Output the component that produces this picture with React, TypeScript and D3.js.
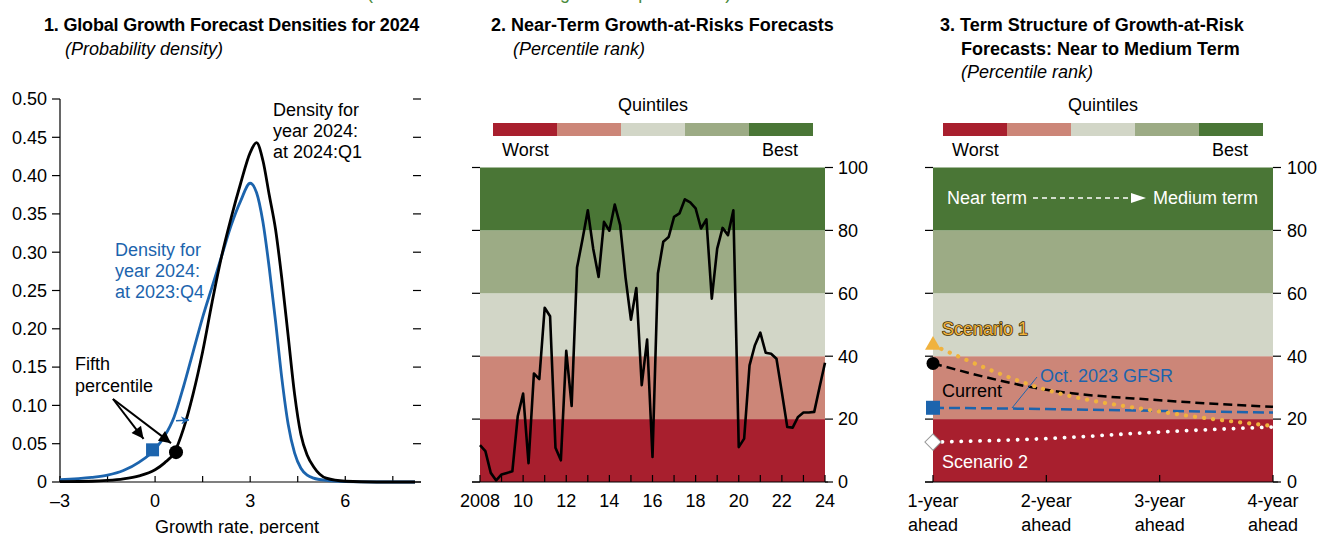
import React from "react";
import * as d3 from "d3";

const FONT = "'Liberation Sans', Arial, Helvetica, sans-serif";
const FS = 18;
const BLUE = "#1c64ad";
const ORANGE = "#f0b23e";
const QUINT_COLORS = ["#a81f2e", "#cc8678", "#d2d6c7", "#9cab85", "#4a7636"];
const BAND_EDGES = [0, 20, 40, 60, 80, 100];

// ---------- Panel 1 data ----------
const densityX = [-3, -2, -1.5, -1, -0.5, 0, 0.3, 0.6, 0.9, 1.2, 1.5, 1.8, 2.1, 2.4, 2.7, 3.0, 3.2, 3.4, 3.6, 3.8, 4.0, 4.2, 4.4, 4.6, 4.8, 5.0, 5.4, 6.0, 7.0, 8.2];
const densityQ4 = [0.003, 0.006, 0.009, 0.015, 0.026, 0.043, 0.06, 0.085, 0.125, 0.17, 0.215, 0.255, 0.295, 0.335, 0.367, 0.39, 0.378, 0.34, 0.28, 0.21, 0.135, 0.075, 0.038, 0.018, 0.009, 0.005, 0.002, 0.0005, 0, 0];
const densityQ1 = [0.0005, 0.001, 0.002, 0.004, 0.008, 0.016, 0.025, 0.038, 0.07, 0.115, 0.17, 0.235, 0.295, 0.345, 0.39, 0.43, 0.443, 0.42, 0.375, 0.33, 0.265, 0.19, 0.115, 0.062, 0.035, 0.02, 0.005, 0.001, 0, 0];
const p1YTicks = [0, 0.05, 0.1, 0.15, 0.2, 0.25, 0.3, 0.35, 0.4, 0.45, 0.5];
const p1XTicks = [-3, -1.5, 0, 1.5, 3, 4.5, 6, 7.5];
const p1XLabels = [-3, 0, 3, 6];
const fifthQ4 = { x: -0.08, y: 0.042 };
const fifthQ1 = { x: 0.66, y: 0.039 };

// ---------- Panel 2 data (quarterly, 2008:Q1 – 2024:Q1) ----------
const garStartYear = 2008;
const garValues = [
  11.7, 9.8, 2.9, 0.5, 2.4, 2.9, 3.4, 20.9, 28.1, 6.0, 34.5, 32.7, 55.4, 52.7, 10.9, 6.9,
  41.7, 24.2, 68.2, 77.0, 86.4, 74.2, 65.2, 82.7, 79.9, 88.2, 81.7, 65.0, 51.6, 61.7, 30.8, 45.3,
  8.0, 66.3, 76.4, 77.9, 84.3, 85.4, 89.9, 88.9, 87.0, 80.6, 83.5, 58.3, 74.2, 80.8, 78.5, 86.4,
  11.1, 13.8, 37.1, 43.5, 47.5, 41.1, 40.8, 39.2, 28.5, 17.5, 17.3, 20.7, 22.1, 22.1, 22.3, 30.2,
  37.9,
];
const p2Years = d3.range(2008, 2025);
const p2LabelYears = d3.range(2008, 2025, 2);
const pctTicks = [0, 20, 40, 60, 80, 100];

// ---------- Panel 3 data ----------
const horizons = [1, 2, 3, 4];
const horizonLabels = ["1-year", "2-year", "3-year", "4-year"];
const currentGaR = [37.7, 29.3, 26.0, 23.9];
const gfsrOct2023 = [23.6, 23.2, 22.6, 22.1];
const scenario1 = [43.5, 29.3, 22.4, 17.8];
const scenario2 = [12.7, 13.8, 15.9, 17.5];

function QuintileLegend({ x0, width }: { x0: number; width: number }) {
  const w = width / 5;
  return (
    <g>
      <text x={x0 + width / 2} y={111} textAnchor="middle">Quintiles</text>
      {QUINT_COLORS.map((c, i) => (
        <rect key={i} x={x0 + i * w} y={123} width={w} height={13} fill={c} />
      ))}
      <text x={x0 + 9} y={156}>Worst</text>
      <text x={x0 + width - 15} y={156} textAnchor="end">Best</text>
    </g>
  );
}

export default function App() {
  // Panel 1 scales
  const p1x = d3.scaleLinear().domain([-3, 8.2]).range([60, 415]);
  const p1y = d3.scaleLinear().domain([0, 0.5]).range([482, 99]);
  const densLine = (vals: number[]) =>
    d3
      .line<number>()
      .x((_, i) => p1x(densityX[i]))
      .y((d) => p1y(d))
      .curve(d3.curveMonotoneX)(vals) as string;

  // Panel 2 scales
  const p2x = d3.scaleLinear().domain([2008, 2024]).range([480, 825]);
  const p2y = d3.scaleLinear().domain([0, 100]).range([482, 167.5]);
  const garLine = d3
    .line<number>()
    .x((_, i) => p2x(garStartYear + i / 4))
    .y((d) => p2y(d))(garValues) as string;

  // Panel 3 scales
  const p3x = d3.scalePoint<number>().domain(horizons).range([933, 1273]);
  const p3y = d3.scaleLinear().domain([0, 100]).range([482, 167.5]);
  const termLine = (vals: number[]) =>
    d3
      .line<number>()
      .x((_, i) => p3x(horizons[i]) as number)
      .y((d) => p3y(d))
      .curve(d3.curveMonotoneX)(vals) as string;

  const sqX = p1x(fifthQ4.x);
  const sqY = p1y(fifthQ4.y);
  const ciX = p1x(fifthQ1.x);
  const ciY = p1y(fifthQ1.y);
  const annStart = { x: 113, y: 399 };

  const tri = d3.symbol(d3.symbolTriangle, 110)() as string;
  const diamond = d3.symbol(d3.symbolSquare, 132)() as string;

  const h1 = p3x(1) as number;

  return (
    <svg
      width={1319}
      height={534}
      style={{ position: "absolute", left: 0, top: 0 }}
      fontFamily={FONT}
      fontSize={FS}
    >
      <defs>
        <marker id="arrBlack" viewBox="0 0 10 10" refX="10" refY="5" markerWidth="13" markerHeight="12" markerUnits="userSpaceOnUse" orient="auto">
          <path d="M0,0 L10,5 L0,10 z" fill="#000" />
        </marker>
        <marker id="arrBlue" viewBox="0 0 10 10" refX="10" refY="5" markerWidth="8" markerHeight="8" markerUnits="userSpaceOnUse" orient="auto">
          <path d="M0,0 L10,5 L0,10 L3,5 z" fill={BLUE} />
        </marker>
      </defs>

      {/* partially visible note at the very top */}
      <text x={367} y={-1} fill="#4a8a3a">(Based on the historical growth in percentiles)</text>

      {/* ================= Panel 1 ================= */}
      <text x={44} y={31} fontWeight="bold" letterSpacing={-0.18}>1. Global Growth Forecast Densities for 2024</text>
      <text x={65} y={55} fontStyle="italic">(Probability density)</text>

      <line x1={60} x2={60} y1={p1y(0.5)} y2={p1y(0)} stroke="#000" strokeWidth={1.2} />
      {p1YTicks.map((t) => (
        <g key={t}>
          <line x1={52} x2={60} y1={p1y(t)} y2={p1y(t)} stroke="#000" strokeWidth={1.2} />
          <line x1={413} x2={421} y1={p1y(t)} y2={p1y(t)} stroke="#000" strokeWidth={1.2} />
          <text x={47} y={p1y(t)} dy="0.35em" textAnchor="end">
            {t === 0 ? "0" : t.toFixed(2)}
          </text>
        </g>
      ))}
      <line x1={60} x2={421} y1={p1y(0)} y2={p1y(0)} stroke="#000" strokeWidth={1.2} />
      {p1XTicks.map((t) => (
        <line key={t} x1={p1x(t)} x2={p1x(t)} y1={p1y(0) - 6} y2={p1y(0)} stroke="#000" strokeWidth={1.2} />
      ))}
      {p1XLabels.map((t) => (
        <text key={t} x={p1x(t)} y={507} textAnchor="middle">
          {t < 0 ? "–" + Math.abs(t) : String(t)}
        </text>
      ))}
      <text x={237} y={533} textAnchor="middle">Growth rate, percent</text>

      <path d={densLine(densityQ4)} fill="none" stroke={BLUE} strokeWidth={2.8} />
      <path d={densLine(densityQ1)} fill="none" stroke="#000" strokeWidth={2.8} />

      <rect x={sqX - 6.5} y={sqY - 6.5} width={13} height={13} fill={BLUE} />
      <circle cx={ciX} cy={ciY} r={7} fill="#000" />

      <line x1={annStart.x} y1={annStart.y} x2={sqX - 9} y2={sqY - 11} stroke="#000" strokeWidth={2} markerEnd="url(#arrBlack)" />
      <line x1={annStart.x} y1={annStart.y} x2={ciX - 5} y2={ciY - 9} stroke="#000" strokeWidth={2} markerEnd="url(#arrBlack)" />
      <line x1={p1x(0.66)} x2={p1x(1.07)} y1={p1y(0.08)} y2={p1y(0.081)} stroke={BLUE} strokeWidth={1.6} markerEnd="url(#arrBlue)" />

      <text x={75} y={370}>Fifth</text>
      <text x={75} y={392}>percentile</text>
      <g fill={BLUE}>
        <text x={115} y={256}>Density for</text>
        <text x={115} y={277}>year 2024:</text>
        <text x={115} y={298}>at 2023:Q4</text>
      </g>
      <text x={273} y={116}>Density for</text>
      <text x={273} y={137}>year 2024:</text>
      <text x={273} y={158}>at 2024:Q1</text>

      {/* ================= Panel 2 ================= */}
      <text x={491} y={31} fontWeight="bold">2. Near-Term Growth-at-Risks Forecasts</text>
      <text x={513} y={55} fontStyle="italic">(Percentile rank)</text>
      <QuintileLegend x0={493} width={320} />

      {QUINT_COLORS.map((c, i) => (
        <rect key={i} x={p2x(2008)} y={p2y(BAND_EDGES[i + 1])} width={p2x(2024) - p2x(2008)} height={p2y(BAND_EDGES[i]) - p2y(BAND_EDGES[i + 1])} fill={c} />
      ))}
      {pctTicks.map((t) => (
        <g key={t}>
          <line x1={472} x2={480} y1={p2y(t)} y2={p2y(t)} stroke="#000" strokeWidth={1.2} />
          <line x1={825} x2={833} y1={p2y(t)} y2={p2y(t)} stroke="#000" strokeWidth={1.2} />
          <text x={838} y={p2y(t)} dy="0.35em">{t}</text>
        </g>
      ))}
      <path d={garLine} fill="none" stroke="#000" strokeWidth={2.6} strokeLinejoin="round" />
      <line x1={472} x2={828} y1={p2y(0)} y2={p2y(0)} stroke="#000" strokeWidth={1.2} />
      {p2Years.map((yr) => (
        <line key={yr} x1={p2x(yr)} x2={p2x(yr)} y1={p2y(0) - 7} y2={p2y(0)} stroke="#000" strokeWidth={1.2} />
      ))}
      {p2LabelYears.map((yr) => (
        <text key={yr} x={p2x(yr)} y={507} textAnchor="middle">
          {yr === 2008 ? "2008" : String(yr).slice(2)}
        </text>
      ))}

      {/* ================= Panel 3 ================= */}
      <text x={940} y={31} fontWeight="bold">3. Term Structure of Growth-at-Risk</text>
      <text x={961} y={55} fontWeight="bold">Forecasts: Near to Medium Term</text>
      <text x={961} y={78} fontStyle="italic">(Percentile rank)</text>
      <QuintileLegend x0={943} width={320} />

      {QUINT_COLORS.map((c, i) => (
        <rect key={i} x={p3x(1)} y={p3y(BAND_EDGES[i + 1])} width={(p3x(4) as number) - h1} height={p3y(BAND_EDGES[i]) - p3y(BAND_EDGES[i + 1])} fill={c} />
      ))}
      {pctTicks.map((t) => (
        <g key={t}>
          <line x1={925} x2={933} y1={p3y(t)} y2={p3y(t)} stroke="#000" strokeWidth={1.2} />
          <line x1={1273} x2={1281} y1={p3y(t)} y2={p3y(t)} stroke="#000" strokeWidth={1.2} />
          <text x={1287} y={p3y(t)} dy="0.35em">{t}</text>
        </g>
      ))}
      <line x1={925} x2={1278} y1={p3y(0)} y2={p3y(0)} stroke="#000" strokeWidth={1.2} />
      {horizons.map((h, i) => (
        <g key={h}>
          <line x1={p3x(h)} x2={p3x(h)} y1={p3y(0) - 7} y2={p3y(0)} stroke="#000" strokeWidth={1.2} />
          <text x={p3x(h)} y={507} textAnchor="middle">{horizonLabels[i]}</text>
          <text x={p3x(h)} y={531} textAnchor="middle">ahead</text>
        </g>
      ))}

      {/* near term -> medium term */}
      <g fill="#fff">
        <text x={947} y={204}>Near term</text>
        <line x1={1033} x2={1133} y1={198} y2={198} stroke="#fff" strokeWidth={1.6} strokeDasharray="5 4" />
        <path d="M1131,193 L1146,198 L1131,203 z" />
        <text x={1153} y={204}>Medium term</text>
      </g>

      <path d={termLine(scenario2)} fill="none" stroke="#fff" strokeWidth={3.8} strokeDasharray="0.1 9.3" strokeLinecap="round" />
      <path d={termLine(gfsrOct2023)} fill="none" stroke={BLUE} strokeWidth={2.5} strokeDasharray="11 5" />
      <path d={termLine(currentGaR)} fill="none" stroke="#000" strokeWidth={2.5} strokeDasharray="9 5" />
      <path d={termLine(scenario1)} fill="none" stroke={ORANGE} strokeWidth={4.2} strokeDasharray="0.1 9" strokeLinecap="round" />

      <path d={tri} transform={`translate(${h1},${p3y(scenario1[0])})`} fill={ORANGE} />
      <circle cx={h1} cy={p3y(currentGaR[0])} r={6.5} fill="#000" />
      <rect x={h1 - 7} y={p3y(gfsrOct2023[0]) - 7} width={14} height={14} fill={BLUE} />
      <path d={diamond} transform={`translate(${h1},${p3y(scenario2[0])}) rotate(45)`} fill="#fff" stroke="#999" strokeWidth={1} />

      <text x={942} y={335} fill={ORANGE} stroke="#3d2f08" strokeWidth={1.6} paintOrder="stroke" strokeLinejoin="round">Scenario 1</text>
      <text x={942} y={397} fill="#000">Current</text>
      <text x={1040} y={382} fill={BLUE}>Oct. 2023 GFSR</text>
      <line x1={1037} y1={377} x2={1012} y2={408} stroke={BLUE} strokeWidth={1} />
      <text x={942} y={468} fill="#fff">Scenario 2</text>
    </svg>
  );
}
